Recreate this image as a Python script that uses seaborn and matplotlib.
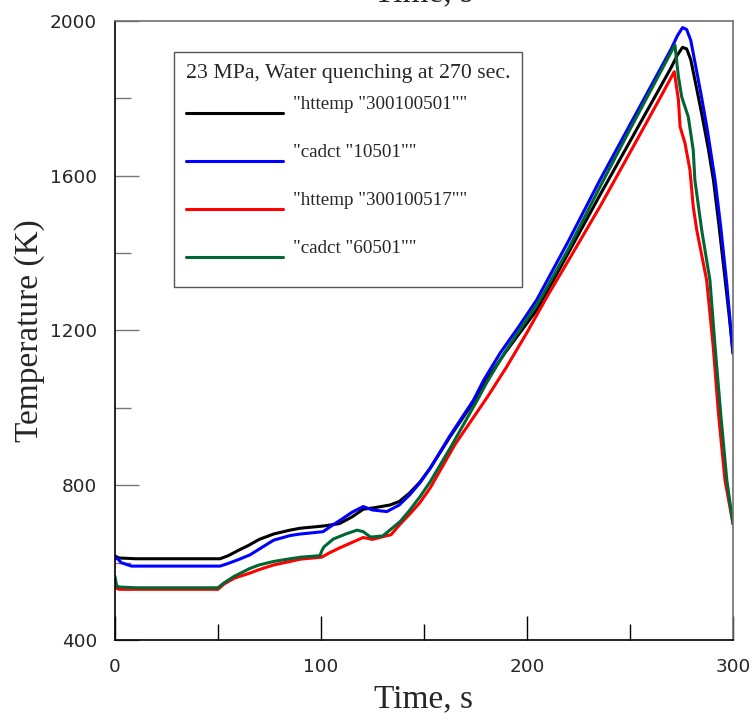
import numpy as np
import pandas as pd
import matplotlib
matplotlib.use("Agg")
import matplotlib.pyplot as plt
from matplotlib.ticker import MultipleLocator
import seaborn as sns

# ---------------- data ----------------
series_names = ['"httemp "300100501""', '"cadct "10501""',
                '"httemp "300100517""', '"cadct "60501""']
series_colors = ["#000000", "#0000FF", "#FF0000", "#006633"]
legend_title = "23 MPa, Water quenching at 270 sec."

t_black = [0, 2, 10, 51, 55, 60, 65, 70, 77, 85, 90, 100, 103, 109, 115, 120.5,
           126, 133.5, 138, 143, 148, 153, 162.6, 174, 179, 189.3, 205, 220,
           235.4, 250, 265, 270, 273, 275.5, 277.5, 279.5, 282, 285, 288, 290.5,
           293, 296, 298, 300]
T_black = [617, 612, 610, 610, 618, 632, 645, 660, 674, 684, 689, 694, 696, 701,
           718, 738, 742, 749, 758, 780, 808, 844, 925, 1015, 1062, 1142, 1255,
           1400, 1550, 1689, 1832, 1880, 1912, 1932, 1928, 1900, 1835, 1755, 1670,
           1589, 1480, 1340, 1245, 1141]

t_blue = [0, 1, 3, 8, 51, 55, 60, 65.5, 70, 77, 85, 90, 101, 104.5, 110, 115,
          120.5, 125, 132, 138, 143, 148, 153, 162.6, 174, 179, 187, 196, 204.7,
          220, 235.4, 250, 265, 270, 273, 275.5, 277.5, 279.5, 282, 284.5, 287.5,
          291.3, 294, 297, 300]
T_blue = [609, 612, 600, 591, 591, 598, 608, 620, 635, 658, 670, 674, 680, 693,
          712, 730, 745, 736, 732, 749, 775, 806, 844, 928, 1020, 1072, 1142,
          1210, 1279, 1430, 1589, 1732, 1879, 1928, 1962, 1983, 1978, 1950, 1880,
          1810, 1720, 1589, 1470, 1320, 1141]

t_red = [0, 2, 10, 50, 53, 58, 65.5, 70, 77, 85, 90, 100.3, 104, 109, 115, 120.5,
         125, 130, 134, 138, 143, 148, 153, 165, 181, 190, 199.8, 210, 220, 235.4,
         250, 265, 271.5, 273.5, 274.3, 276.7, 279.1, 280.7, 282.4, 287.2, 290.4,
         292.9, 296.1, 300]
T_red = [535, 531, 531, 531, 545, 560, 573, 582, 594, 603, 609, 614, 625, 638,
         652, 665, 660, 667, 672, 697, 725, 755, 793, 905, 1030, 1105, 1193, 1290,
         1380, 1520, 1660, 1805, 1869, 1796, 1727, 1684, 1615, 1520, 1460, 1330,
         1158, 987, 813, 700]

t_green = [0, 0.8, 2, 10, 50, 53, 58, 65.5, 70, 77, 85, 90, 99.5, 100.5, 101.5,
           106, 112, 117.5, 120.5, 124, 130, 138.4, 143, 148, 153, 162.6, 176.4,
           180.4, 190, 206.3, 220, 235.4, 250, 265, 271.8, 273.5, 275.1, 278.3,
           280.7, 281.5, 284.8, 288.8, 291.3, 294, 297, 300]
T_green = [564, 540, 537, 535, 535, 548, 565, 585, 594, 603, 610, 614, 618, 632,
           641, 661, 674, 684, 680, 666, 669, 706, 735, 770, 809, 895, 1025, 1065,
           1150, 1279, 1410, 1571, 1720, 1870, 1938, 1856, 1804, 1752, 1666, 1589,
           1460, 1330, 1158, 987, 813, 700]

x_major_ticks = [0, 100, 200, 300]
y_major_ticks = [400, 800, 1200, 1600, 2000]

# ---------------- build long table ----------------
frames = []
for name, tt, TT in zip(series_names,
                        [t_black, t_blue, t_red, t_green],
                        [T_black, T_blue, T_red, T_green]):
    frames.append(pd.DataFrame({"time": tt, "temp": TT, "series": name}))
df = pd.concat(frames, ignore_index=True)

# ---------------- style ----------------
sns.set_style("ticks")
plt.rcParams["font.family"] = ["DejaVu Sans"]
serif = ["Liberation Serif", "DejaVu Serif"]

fig = plt.figure(figsize=(7.56, 7.23), dpi=100)
ax = fig.add_axes([115 / 756, 1 - 640 / 723, 618 / 756, 619 / 723])

sns.lineplot(data=df, x="time", y="temp", hue="series",
             palette=dict(zip(series_names, series_colors)),
             hue_order=series_names, estimator=None, sort=False,
             linewidth=2.2, ax=ax, legend=True)

ax.set_xlim(0, 300)
ax.set_ylim(400, 2000)
ax.set_xticks(x_major_ticks)
ax.set_yticks(y_major_ticks)
ax.xaxis.set_minor_locator(MultipleLocator(50))
ax.yaxis.set_minor_locator(MultipleLocator(200))
ax.tick_params(axis="both", which="both", direction="in", top=False, right=False,
               labelsize=13.3, pad=13)
ax.tick_params(axis="both", which="major", length=17, width=1)
ax.tick_params(axis="both", which="minor", length=11.5, width=1)
ax.tick_params(axis="y", which="both", color="#777777")
ax.tick_params(axis="x", which="both", color="#000000")

for side in ["left", "bottom"]:
    ax.spines[side].set_color("#000000")
    ax.spines[side].set_linewidth(1.2)
for side in ["top", "right"]:
    ax.spines[side].set_color("#707070")
    ax.spines[side].set_linewidth(1.2)

ax.set_xlabel("Time, s", fontsize=24, family=serif)
ax.set_ylabel("Temperature (K)", fontsize=24, family=serif)
ax.xaxis.set_label_coords(0.5, -(684 - 640) / 619)
ax.yaxis.set_label_coords(-(115 - 45) / 618, 0.5)

fig.text(424 / 756, 1 - 1 / 723, "Time, s", ha="center", va="baseline",
         fontsize=24, family=serif)

handles, labels = ax.get_legend_handles_labels()
leg = ax.legend(handles, labels, title=legend_title, loc="upper left",
                bbox_to_anchor=((174 - 115) / 618, (640 - 52) / 619),
                borderaxespad=0, frameon=True, fancybox=False, framealpha=1,
                edgecolor="#555555", handlelength=5.1, handletextpad=0.55,
                labelspacing=1.62, borderpad=0.62,
                prop={"family": serif, "size": 13.7},
                title_fontproperties={"family": serif, "size": 15.7},
                alignment="left")
leg.get_frame().set_linewidth(1.0)
for line in leg.get_lines():
    line.set_linewidth(2.2)
    line.set_ydata(np.asarray(line.get_ydata(), dtype=float) + 5.6)
for txt in leg.get_texts():
    txt.set_y(18)

fig.savefig("out.png", dpi=100)
